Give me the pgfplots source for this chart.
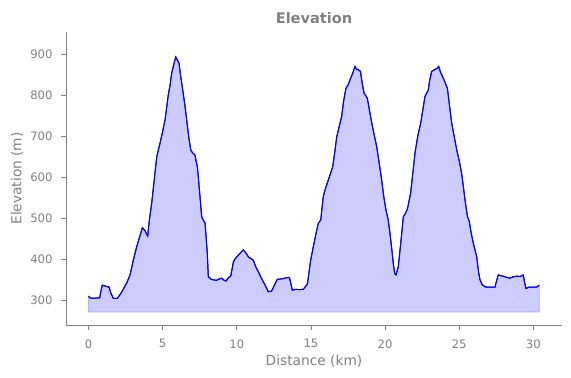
\documentclass[border=0pt]{standalone}
\usepackage{pgfplots}
\pgfplotsset{compat=1.18}
\usepgfplotslibrary{fillbetween}
\usepackage{pgfplotstable}
\usepackage{fontspec}
\setmainfont{DejaVu Sans}
\definecolor{txtgray}{RGB}{128,128,128}
\definecolor{fillblue}{RGB}{204,204,255}
\definecolor{edgeblue}{RGB}{178,178,255}

\pgfplotstableread{
d e
0 310
0.1 306
0.3 305
0.6 306
0.75 306
0.85 325
0.93 337
1.1 335
1.3 333
1.38 333
1.5 318
1.67 305
1.94 305
2.2 318
2.58 343
2.8 362
3.0 395
3.25 431
3.45 455
3.63 477
3.8 470
3.99 457
4.1 495
4.26 537
4.45 600
4.6 650
4.82 683
5.0 712
5.16 740
5.38 801
5.5 825
5.61 854
5.75 875
5.88 893
6.0 885
6.1 878
6.2 850
6.35 813
6.5 775
6.62 740
6.75 700
6.89 667
7.0 660
7.18 654
7.25 640
7.34 626
7.5 560
7.63 504
7.75 495
7.86 488
8.0 420
8.08 357
8.15 356
8.24 352
8.4 350
8.64 349
8.8 352
8.98 354
9.1 350
9.27 347
9.45 356
9.59 359
9.7 380
9.77 394
9.9 402
10.1 410
10.3 418
10.44 423
10.6 416
10.78 406
10.95 402
11.11 398
11.3 380
11.45 370
11.6 358
11.79 345
11.95 334
12.12 321
12.35 323
12.55 338
12.73 351
12.9 352
13.13 353
13.35 355
13.54 356
13.62 345
13.74 325
14.0 327
14.2 326
14.49 327
14.76 340
14.98 398
15.16 431
15.34 463
15.5 488
15.66 496
15.83 553
16.0 575
16.17 593
16.47 626
16.6 660
16.74 699
17.07 748
17.2 785
17.36 817
17.5 825
17.63 837
17.8 852
17.97 870
18.1 862
18.19 862
18.34 858
18.45 830
18.58 805
18.8 793
18.95 762
19.1 732
19.43 675
19.6 635
19.77 593
19.9 555
20.06 520
20.21 496
20.33 463
20.45 425
20.55 390
20.65 365
20.73 362
20.89 382
21.0 420
21.12 463
21.23 504
21.34 510
21.5 522
21.72 561
22.02 660
22.2 700
22.4 732
22.69 797
22.91 812
23.0 835
23.14 858
23.37 863
23.5 865
23.61 870
23.75 855
23.93 841
24.2 817
24.49 732
24.83 667
25.0 640
25.16 610
25.39 545
25.55 505
25.68 492
25.8 465
25.95 439
26.18 406
26.3 370
26.4 350
26.55 338
26.74 333
27.0 332
27.2 332
27.41 332
27.5 345
27.63 362
27.8 360
27.97 359
28.2 356
28.42 354
28.6 357
28.87 359
29.1 358
29.32 362
29.4 345
29.5 329
29.7 332
29.99 332
30.2 332
30.4 337
}\elev

\begin{document}
\begin{tikzpicture}
\begin{axis}[
  width=496bp, height=293bp, scale only axis,
  xmin=-1.52, xmax=31.93, ymin=240, ymax=954,
  axis x line*=bottom, axis y line*=left,
  axis line style={txtgray, line width=0.8bp},
  tick style={txtgray, line width=0.8bp},
  tick align=outside, major tick length=4.9bp,
  xtick={0,5,...,30}, ytick={300,400,...,900},
  minor tick num=0,
  /pgf/number format/assume math mode=true,
  ticklabel style={font=\fontsize{11.7}{14}\selectfont, text=txtgray},
  xticklabel style={anchor=north, yshift=-6bp},
  yticklabel style={anchor=east, xshift=-5bp},
  xlabel={Distance (km)}, ylabel={Elevation (m)},
  label style={font=\fontsize{13.8}{16}\selectfont, text=txtgray},
  xlabel style={at={(axis description cs:0.5,0)}, anchor=center, yshift=-36bp},
  ylabel style={at={(axis description cs:0,0.5)}, anchor=center, yshift=49bp},
  title={Elevation},
  title style={font=\bfseries\fontsize{14.6}{17}\selectfont, text=txtgray, at={(axis description cs:0.5,1)}, anchor=center, yshift=8bp},
]
\addplot[name path=top, blue, line width=1bp] table[x=d, y=e] {\elev};
\addplot[name path=base, draw=none] coordinates {(0,272) (30.4,272)};
\addplot[fill=fillblue, draw=edgeblue, line width=0.8bp] fill between[of=top and base];
\addplot[blue, line width=1bp] table[x=d, y=e] {\elev};
\end{axis}
\path ([shift={(-66bp,-53bp)}]current axis.south west) rectangle ([shift={(9bp,32bp)}]current axis.north east);
\end{tikzpicture}
\end{document}
